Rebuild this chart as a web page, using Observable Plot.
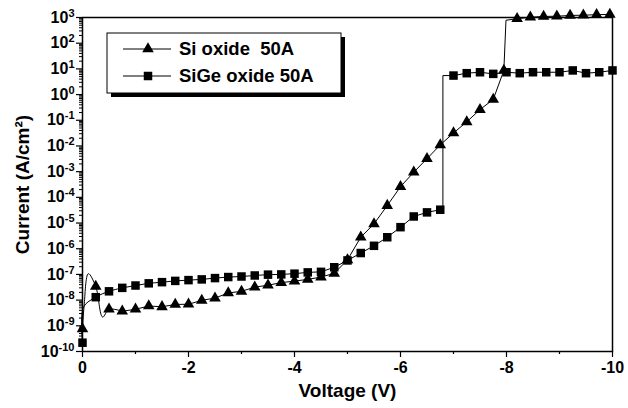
<!DOCTYPE html>
<html><head><meta charset="utf-8">
<script src="https://cdn.jsdelivr.net/npm/d3@7"></script>
<script src="https://cdn.jsdelivr.net/npm/@observablehq/plot@0.6"></script>
<style>
body{margin:0;background:#fff}
svg{font-family:"Liberation Sans",Arial,Helvetica,sans-serif;font-weight:bold}
</style>
</head><body><div id="chart"></div>
<script>
// Si oxide 50A (triangles): voltage (V) and current density (A/cm^2)
const siV = [0,-0.25,-0.5,-0.75,-1,-1.25,-1.5,-1.75,-2,-2.25,-2.5,-2.75,-3,-3.25,-3.5,-3.75,-4,-4.25,-4.5,-4.75,-5,-5.25,-5.5,-5.75,-6,-6.25,-6.5,-6.75,-7,-7.25,-7.5,-7.75,-7.95,-8.2,-8.45,-8.7,-8.95,-9.2,-9.45,-9.7,-9.95];
const siI = [7.6e-10,3.4e-8,4.4e-9,3.7e-9,4.4e-9,5.9e-9,5.5e-9,6.8e-9,6.9e-9,9.8e-9,1.2e-8,1.9e-8,2.2e-8,3.2e-8,3.8e-8,4.8e-8,5.5e-8,6.4e-8,7.9e-8,1.1e-7,3.7e-7,2.8e-6,9.3e-6,4.8e-5,2.6e-4,9.5e-4,3.2e-3,1.1e-2,3.2e-2,8.7e-2,0.26,0.65,8.7,900,1020,1100,1120,1200,1230,1290,1320];
// line-only vertices (measured curve between markers)
const siExtraV = [-0.03,-0.11,-0.38,-7.99];
const siExtraI = [6e-9,1.07e-7,2.2e-9,780];

// SiGe oxide 50A (squares)
const sigeV = [0,-0.25,-0.5,-0.75,-1,-1.25,-1.5,-1.75,-2,-2.25,-2.5,-2.75,-3,-3.25,-3.5,-3.75,-4,-4.25,-4.5,-4.75,-5,-5.25,-5.5,-5.75,-6,-6.25,-6.5,-6.75,-7,-7.25,-7.5,-7.75,-8,-8.25,-8.5,-8.75,-9,-9.25,-9.5,-9.75,-10];
const sigeI = [2.2e-10,1.3e-8,2.2e-8,3.0e-8,3.7e-8,4.5e-8,5.0e-8,5.6e-8,6.0e-8,6.4e-8,7.2e-8,7.9e-8,8.3e-8,9.1e-8,9.8e-8,1.0e-7,1.07e-7,1.2e-7,1.26e-7,1.9e-7,3.5e-7,6.8e-7,1.3e-6,2.8e-6,6.9e-6,1.8e-5,2.6e-5,3.3e-5,5.5,6.8,7.4,6.4,7.4,6.8,7.4,7.4,7.4,8.7,6.8,7.4,8.7];
// line-only vertices (measured curve between markers)
const sigeExtraV = [-0.02,-6.80,-6.80];
const sigeExtraI = [5.4e-9,3.6e-5,5.5];

const xTicks = [0,-2,-4,-6,-8,-10];
const xMinor = [-1,-3,-5,-7,-9];
const yExp = [-10,-9,-8,-7,-6,-5,-4,-3,-2,-1,0,1,2,3];
const legendLabels = ["Si oxide  50A","SiGe oxide 50A"];

const rows = (V, I) => V.map((v, i) => ({V: v, I: I[i]}));
const si = rows(siV, siI);
const sige = rows(sigeV, sigeI);
const siLine = [...si, ...rows(siExtraV, siExtraI)].sort((a, b) => b.V - a.V);
const sigeLine = [...sige, ...rows(sigeExtraV, sigeExtraI)].sort((a, b) => b.V - a.V);
const yMajor = yExp.map(e => Math.pow(10, e));
const yMinor = [];
yExp.slice(0, -1).forEach(e => { for (let k = 2; k <= 9; k++) yMinor.push(k * Math.pow(10, e)); });

const TRI_R = 4.3, SQ_R = 4.8;
const VS = -0.75; // the start of each curve (V >= VS) is drawn smooth
const chart = Plot.plot({
  width: 628, height: 408,
  marginLeft: 82, marginRight: 16, marginTop: 17, marginBottom: 57,
  x: {domain: [0, -10]},
  y: {type: "log", domain: [1e-10, 1e3]},
  style: {fontFamily: '"Liberation Sans",Arial,sans-serif', fontWeight: "bold", background: "white", color: "black"},
  marks: [
    Plot.axisX(xMinor, {tickSize: 3, tickFormat: () => "", label: null, strokeWidth: 1.2}),
    Plot.axisX(xTicks, {tickSize: 6, tickPadding: 4, fontSize: 16, tickFormat: d => String(d), label: null, strokeWidth: 1.2}),
    Plot.axisY(yMinor, {tickSize: 3, tickFormat: () => "", label: null}),
    Plot.axisY(yMajor, {tickSize: 6, tickPadding: 2, fontSize: 16, tickFormat: d => "10^" + Math.round(Math.log10(d)), label: null, strokeWidth: 1.2}),
    Plot.text(["Voltage (V)"], {frameAnchor: "bottom", lineAnchor: "middle", textAnchor: "middle", dy: 39, fontSize: 19, fontWeight: "bold"}),
    Plot.text(["Current (A/cm²)"], {frameAnchor: "left", textAnchor: "middle", lineAnchor: "middle", rotate: -90, dx: -60, fontSize: 19, fontWeight: "bold"}),
    Plot.line(siLine.filter(d => d.V >= VS), {x: "V", y: "I", curve: "catmull-rom", stroke: "black", strokeWidth: 1}),
    Plot.line(siLine.filter(d => d.V <= VS), {x: "V", y: "I", stroke: "black", strokeWidth: 1}),
    Plot.line(sigeLine.filter(d => d.V >= VS), {x: "V", y: "I", curve: "catmull-rom", stroke: "black", strokeWidth: 1}),
    Plot.line(sigeLine.filter(d => d.V <= VS), {x: "V", y: "I", stroke: "black", strokeWidth: 1}),
    Plot.dot(si, {x: "V", y: "I", symbol: "triangle", r: TRI_R, fill: "black", stroke: "none"}),
    Plot.dot(sige, {x: "V", y: "I", symbol: "square", r: SQ_R, fill: "black", stroke: "none"}),
    Plot.frame({stroke: "black", strokeWidth: 1.5})
  ]
});
document.getElementById("chart").appendChild(chart);

// superscript exponents on the y tick labels
const svg = d3.select(chart);
svg.selectAll("text").each(function() {
  const t = this.textContent;
  if (/^10\^/.test(t)) {
    const e = t.split("^")[1];
    const s = d3.select(this);
    s.text("10");
    s.append("tspan").attr("dy", "-0.55em").attr("font-size", "11px").text(e);
  }
});

// legend with drop shadow
const L = {x: 107, y: 33, w: 234, h: 60};
const g = svg.append("g").attr("font-size", 18.5).attr("font-weight", "bold").attr("text-anchor", "start");
g.append("rect").attr("x", L.x + 4).attr("y", L.y + 4).attr("width", L.w).attr("height", L.h).attr("fill", "black");
g.append("rect").attr("x", L.x).attr("y", L.y).attr("width", L.w).attr("height", L.h).attr("fill", "white").attr("stroke", "black").attr("stroke-width", 1);
const sym = [d3.symbol(d3.symbolTriangle, Math.PI * TRI_R * TRI_R)(), d3.symbol(d3.symbolSquare, Math.PI * SQ_R * SQ_R)()];
legendLabels.forEach((lab, i) => {
  const cy = L.y + 16 + i * 27;
  g.append("line").attr("x1", L.x + 16).attr("x2", L.x + 64).attr("y1", cy).attr("y2", cy).attr("stroke", "black");
  g.append("path").attr("d", sym[i]).attr("transform", `translate(${L.x + 41},${cy})`).attr("fill", "black");
  g.append("text").attr("x", L.x + 72).attr("y", cy).attr("dy", "0.35em").attr("text-anchor", "start").text(lab);
});
</script>
</body></html>
